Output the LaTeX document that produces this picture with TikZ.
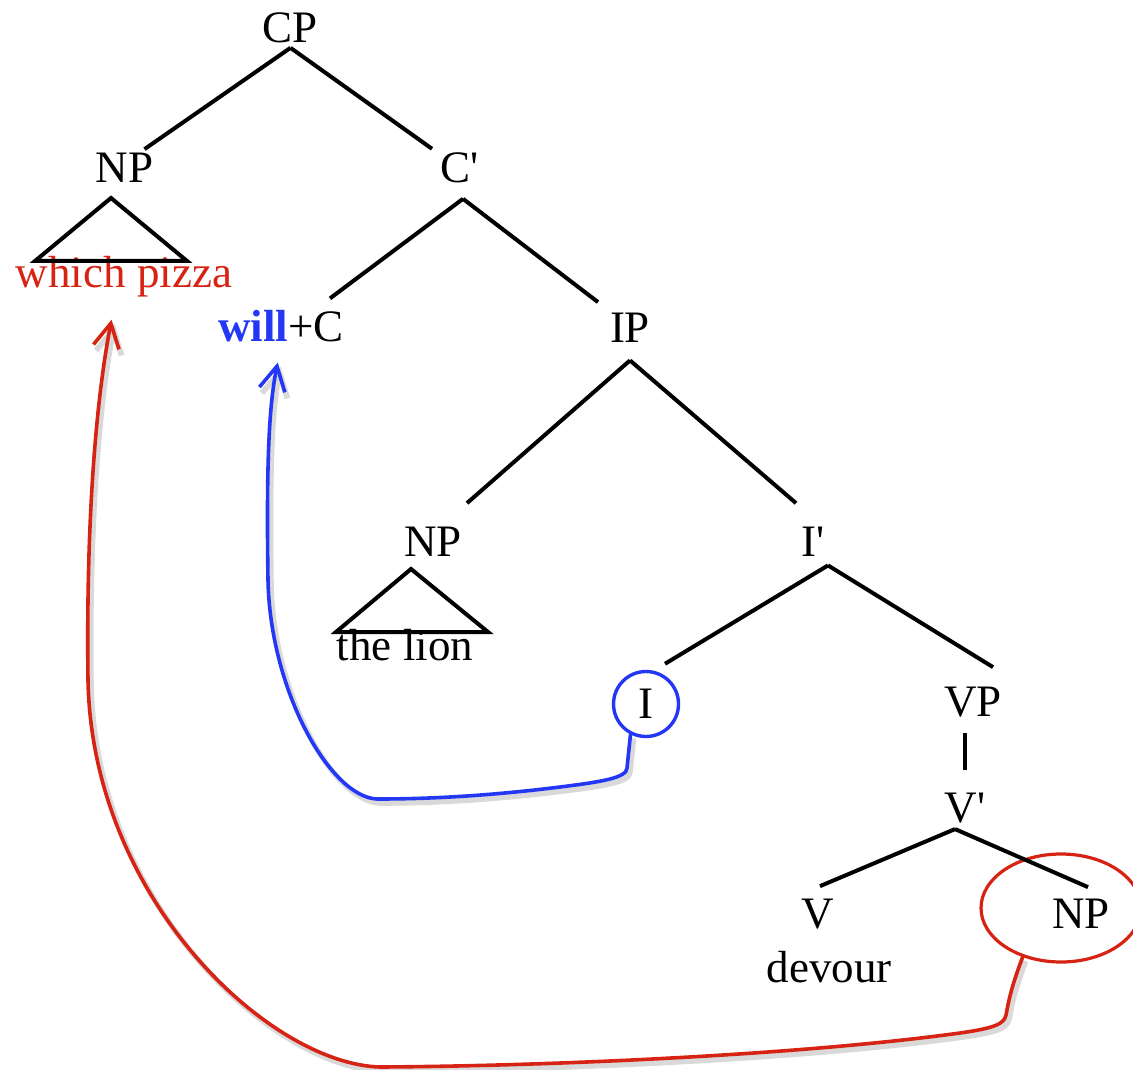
\documentclass[tikz,border=0pt]{standalone}
\usepackage{fontspec}
\setmainfont{Liberation Serif}
\usetikzlibrary{arrows.meta,shapes.geometric,calc}
\definecolor{moveblue}{RGB}{35,55,245}
\definecolor{movered}{RGB}{215,35,20}
\begin{document}
\begin{tikzpicture}[x=0.5pt,y=-0.5pt,
  every node/.style={font=\fontsize{22.5}{27}\selectfont,inner sep=2pt,anchor=base},
  branch/.style={line width=2pt},
  roof/.style={line width=2pt,line join=miter},
  move/.style={#1,line width=1.8pt,line cap=round,-{Straight Barb[length=12pt,width=13pt]},
    preaction={draw=black!15,line width=2.8pt,transform canvas={shift={(1.5pt,-2pt)}}}}]
\useasboundingbox (0,0) rectangle (1133,1069);

\node (cp) at (290.5,43) {CP};
\node (np1) at (124.5,183) {NP};
\node (c1) at (460,183) {C\textquotesingle};
\node[text=movered] (wp) at (124,288) {which pizza};
\node (wc) at (281,342) {\textcolor{moveblue}{\textbf{will}}+C};
\node (ip) at (630,343) {IP};
\node (np2) at (433,556) {NP};
\node (i1) at (813,556) {I\textquotesingle};
\node (tl) at (405,660) {the lion};
\node[circle,draw=moveblue,line width=1.7pt,minimum size=32.5pt,inner sep=0pt,anchor=center] (i0) at (646,704) {I};
\node (vp) at (973,716) {VP};
\node (v1) at (965,822) {V\textquotesingle};
\node (v0) at (818,928) {V};
\node (np3) at (1081,928) {NP};
\node (dv) at (829,982) {devour};
\node[ellipse,draw=movered,line width=1.6pt,minimum width=80pt,minimum height=54pt,anchor=center] (ring) at (1061,908) {};

% roofs
\draw[roof] (111,198) -- (187,261) -- (35,261) -- cycle;
\draw[roof] (411,569) -- (488,632) -- (336,632) -- cycle;

% branches
\draw[branch] (cp.south) -- ($(np1.north)+(20,0)$);
\draw[branch] (cp.south) -- ($(c1.north)+(-28,0)$);
\draw[branch] ($(c1.south)+(3,11)$) -- ($(wc.north)+(49,-8)$);
\draw[branch] ($(c1.south)+(3,11)$) -- ($(ip.north)+(-32,-7)$);
\draw[branch] ($(ip.south)+(0,13)$) -- ($(np2.north)+(34,-19)$);
\draw[branch] ($(ip.south)+(0,13)$) -- ($(i1.north)+(-17,-19)$);
\draw[branch] ($(i1.south)+(15,5)$) -- ($(i0.north)+(19,-6)$);
\draw[branch] ($(i1.south)+(15,5)$) -- ($(vp.north)+(20,-15)$);
\draw[branch,shorten <=6pt,shorten >=9pt] (vp.south -| v1.north) -- (v1.north);
\draw[branch] ($(v1.south)+(-10,2)$) -- ($(v0.north)+(2,-8)$);
\draw[branch] ($(v1.south)+(-10,2)$) -- ($(np3.north)+(7,-7)$);

% movements
\draw[move=moveblue,shorten >=8pt] (i0.243) -- (627,768)
  .. controls (627,778) and (600,782) .. (560,787)
  .. controls (480,797) and (420,799) .. (377,799)
  .. controls (330,797) and (270,690) .. (268,580)
  .. controls (266,450) and (270,400) .. (wc.south);
\draw[move=movered,shorten >=9pt] (ring.232)
  .. controls (1010,990) and (1008,1005) .. (1006,1015)
  .. controls (1004,1024) and (995,1028) .. (960,1033)
  .. controls (800,1055) and (550,1066) .. (380,1067)
  .. controls (270,1064) and (92,900) .. (88,680)
  .. controls (86,520) and (96,400) .. (wp.250);
\end{tikzpicture}
\end{document}
